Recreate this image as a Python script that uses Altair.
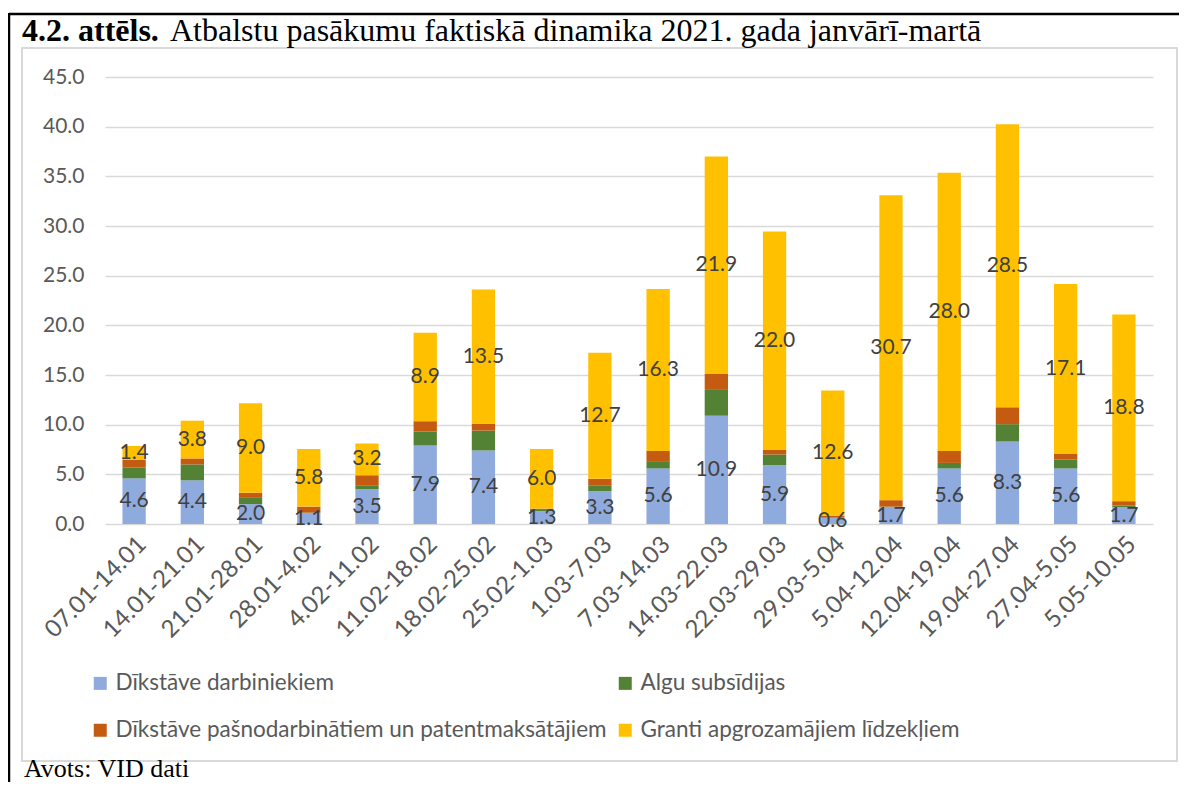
import altair as alt
import pandas as pd

periods = ["07.01-14.01", "14.01-21.01", "21.01-28.01", "28.01-4.02", "4.02-11.02",
           "11.02-18.02", "18.02-25.02", "25.02-1.03", "1.03-7.03", "7.03-14.03",
           "14.03-22.03", "22.03-29.03", "29.03-5.04", "5.04-12.04", "12.04-19.04",
           "19.04-27.04", "27.04-5.05", "5.05-10.05"]

dikstave_darbiniekiem = [4.6, 4.4, 2.0, 1.1, 3.5, 7.9, 7.4, 1.3, 3.3, 5.6, 10.9, 5.9, 0.6, 1.7, 5.6, 8.3, 5.6, 1.7]
algu_subsidijas = [1.1, 1.6, 0.7, 0.05, 0.4, 1.4, 2.0, 0.2, 0.6, 0.65, 2.6, 1.1, 0.05, 0.05, 0.55, 1.75, 0.9, 0.15]
dikstave_pasnodarb = [0.75, 0.6, 0.45, 0.6, 1.0, 1.05, 0.7, 0.05, 0.65, 1.1, 1.6, 0.45, 0.2, 0.65, 1.2, 1.7, 0.55, 0.45]
granti = [1.4, 3.8, 9.0, 5.8, 3.2, 8.9, 13.5, 6.0, 12.7, 16.3, 21.9, 22.0, 12.6, 30.7, 28.0, 28.5, 17.1, 18.8]

series_names = ["Dīkstāve darbiniekiem", "Algu subsīdijas",
                "Dīkstāve pašnodarbinātiem un patentmaksātājiem",
                "Granti apgrozamājiem līdzekļiem"]
series_colors = ["#8FAADC", "#548235", "#C55A11", "#FFC000"]
labelled_series = [0, 3]

y_ticks = [0, 5, 10, 15, 20, 25, 30, 35, 40, 45]

title_bold = "4.2. attēls."
title_rest = "Atbalstu pasākumu faktiskā dinamika 2021. gada janvārī-martā"
source_text = "Avots: VID dati"

all_series = [dikstave_darbiniekiem, algu_subsidijas, dikstave_pasnodarb, granti]
rows = []
for i, p in enumerate(periods):
    for k, name in enumerate(series_names):
        rows.append({"period": p, "series": name, "order": k, "value": all_series[k][i]})
df = pd.DataFrame(rows)

W, H = 1048, 447
PL, PT = 97, 69
TOTAL_W, TOTAL_H = 1171, 774
OX, OY = 8 + PL, 8 + PT  # page position of plot origin

FONT = "Lato"
SERIF = "Liberation Serif"

x_scale = alt.Scale(paddingInner=0.6, paddingOuter=0.3)
y_scale = alt.Scale(domain=[0, 45], nice=False)
x_axis = alt.Axis(title=None, labelAngle=-45, labelFontSize=24, labelFont=FONT,
                  labelColor="#595959", ticks=False, domain=False, labelPadding=8,
                  grid=False, labelLimit=300)
y_axis = alt.Axis(title=None, values=y_ticks, format=".1f", labelFontSize=21,
                  labelFont=FONT, labelColor="#595959", labelPadding=21,
                  ticks=False, domain=False, gridColor="#D9D9D9", gridWidth=1.3)

bars = alt.Chart(df).mark_bar().encode(
    x=alt.X("period:N", sort=periods, scale=x_scale, axis=x_axis),
    y=alt.Y("value:Q", stack="zero", scale=y_scale, axis=y_axis),
    color=alt.Color("series:N",
                    scale=alt.Scale(domain=series_names, range=series_colors),
                    legend=alt.Legend(title=None, orient="none", legendX=-16, legendY=595,
                                      direction="horizontal",
                                      columns=2, symbolType="square", symbolSize=169,
                                      symbolStrokeWidth=0, labelFontSize=22.5, labelFont=FONT,
                                      labelColor="#595959", labelLimit=700, rowPadding=24,
                                      columnPadding=7, padding=0, labelOffset=4)),
    order=alt.Order("order:Q"),
)

labels = alt.Chart(df).transform_stack(
    stack="value", groupby=["period"], as_=["y0", "y1"],
    sort=[alt.SortField("order", order="ascending")]
).transform_calculate(
    mid="(datum.y0 + datum.y1) / 2"
).transform_filter(
    alt.FieldOneOfPredicate(field="order", oneOf=labelled_series)
).mark_text(fontSize=21, font=FONT, color="#404040", baseline="middle").encode(
    x=alt.X("period:N", sort=periods, scale=x_scale, axis=x_axis),
    y=alt.Y("mid:Q", scale=y_scale, axis=y_axis),
    text=alt.Text("value:Q", format=".1f"),
)

one = pd.DataFrame({"a": [0]})

gray_frame = alt.Chart(one).mark_rect(fillOpacity=0, stroke="#D9D9D9", strokeWidth=2).encode(
    x=alt.value(22 - OX), x2=alt.value(1177 - OX),
    y=alt.value(48 - OY), y2=alt.value(761 - OY),
)
black_left = alt.Chart(one).mark_rule(color="black", strokeWidth=2.5).encode(
    x=alt.value(9 - OX), y=alt.value(13 - OY), y2=alt.value(800 - OY),
)
black_top = alt.Chart(one).mark_rule(color="black", strokeWidth=2.5).encode(
    x=alt.value(9 - OX), x2=alt.value(1200 - OX), y=alt.value(14 - OY),
)

t_bold = alt.Chart(pd.DataFrame({"t": [title_bold]})).mark_text(
    font=SERIF, fontSize=32, fontWeight="bold", color="black", align="left", baseline="alphabetic"
).encode(text="t:N", x=alt.value(22 - OX), y=alt.value(41 - OY))
t_rest = alt.Chart(pd.DataFrame({"t": [title_rest]})).mark_text(
    font=SERIF, fontSize=32, color="black", align="left", baseline="alphabetic"
).encode(text="t:N", x=alt.value(170 - OX), y=alt.value(41 - OY))
t_src = alt.Chart(pd.DataFrame({"t": [source_text]})).mark_text(
    font=SERIF, fontSize=26, color="black", align="left", baseline="alphabetic"
).encode(text="t:N", x=alt.value(24 - OX), y=alt.value(777 - OY))

chart = alt.layer(gray_frame, black_left, black_top, bars, labels, t_bold, t_rest, t_src).properties(
    width=W, height=H,
    autosize=alt.AutoSizeParams(type="none"),
    padding={"left": PL, "top": PT, "right": TOTAL_W - PL - W, "bottom": TOTAL_H - PT - H},
    background="white",
).configure_view(stroke=None)

chart.save("out.html", embed_options={"renderer": "svg", "actions": False})
